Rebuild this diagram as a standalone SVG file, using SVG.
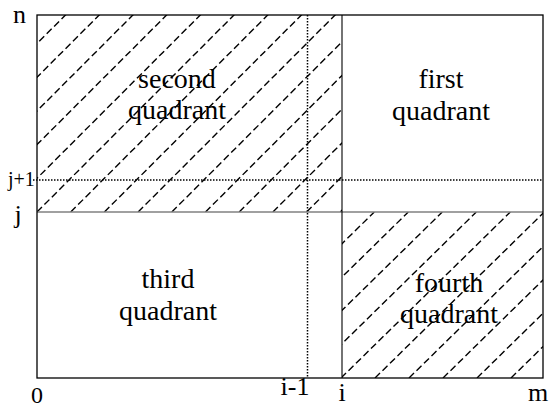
<svg xmlns="http://www.w3.org/2000/svg" width="555" height="409" viewBox="0 0 555 409">
<style>
text{font-family:'Liberation Serif','DejaVu Serif','Times New Roman',serif;fill:#000}
.q{font-size:28px;text-anchor:middle}
.lab{font-size:26px;text-anchor:middle}
.hatch{stroke:#000;stroke-width:1.4;stroke-dasharray:7 3.5;fill:none}
.dot{stroke:#000;stroke-width:1.5;stroke-dasharray:1.5 1.5;fill:none}
</style>
<defs>
<clipPath id="c2"><rect x="37" y="15" width="305" height="197"/></clipPath>
<clipPath id="c4"><rect x="342" y="212" width="201" height="166"/></clipPath>
</defs>
<g id="hatching">
<path class="hatch" clip-path="url(#c2)" d="M-131.5 212L67.5 13M-97.8 212L101.2 13M-64.1 212L134.9 13M-30.4 212L168.6 13M3.3 212L202.3 13M37 212L236 13M70.7 212L269.7 13M104.4 212L303.4 13M138.1 212L337.1 13M171.8 212L370.8 13M205.5 212L404.5 13M239.2 212L438.2 13M272.9 212L471.9 13M306.6 212L505.6 13M340.3 212L539.3 13"/>
<path class="hatch" clip-path="url(#c4)" d="M205 378L374.3 212M239 378L408.3 212M273 378L442.3 212M307 378L476.3 212M341 378L510.3 212M375 378L544.3 212M409 378L578.3 212M443 378L612.3 212M477 378L646.3 212M511 378L680.3 212"/>
</g>
<g id="connectors">
<line class="dot" x1="33" y1="180" x2="543" y2="180"/>
<line class="dot" x1="307.5" y1="15" x2="307.5" y2="378"/>
<line x1="37" y1="212" x2="543" y2="212" stroke="#808080" stroke-width="1.6"/>
<line x1="342" y1="15" x2="342" y2="378" stroke="#000" stroke-width="1.1"/>
<rect x="37" y="15" width="506" height="363" fill="none" stroke="#000" stroke-width="1.3"/>
</g>
<g id="second-quadrant"><text class="q" x="177" y="88">second</text><text class="q" x="177" y="119">quadrant</text></g>
<g id="first-quadrant"><text class="q" x="441" y="88">first</text><text class="q" x="441" y="120">quadrant</text></g>
<g id="third-quadrant"><text class="q" x="168" y="288">third</text><text class="q" x="168" y="320">quadrant</text></g>
<g id="fourth-quadrant"><text class="q" x="449" y="292">fourth</text><text class="q" x="449" y="323">quadrant</text></g>
<g id="labels">
<text class="lab" x="19.5" y="23">n</text>
<text x="8" y="186" font-size="20">j+1</text>
<text class="lab" x="18" y="223">j</text>
<text class="lab" x="37" y="403" font-size="24" style="font-size:24px">0</text>
<text class="lab" x="295" y="395">i-1</text>
<text class="lab" x="342" y="401">i</text>
<text class="lab" x="538" y="401">m</text>
</g>
</svg>
